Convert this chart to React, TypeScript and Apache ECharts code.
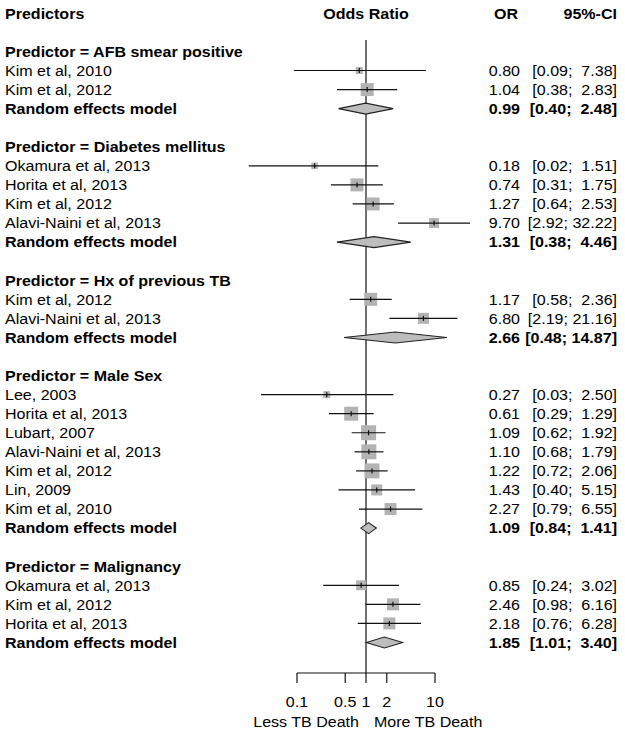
import React, { useEffect, useRef } from "react";
import * as echarts from "echarts";

// ---------- data ----------
const groupNames = ["AFB smear positive", "Diabetes mellitus", "Hx of previous TB", "Male Sex", "Malignancy"];
const studyLabels = [
  "Kim et al, 2010", "Kim et al, 2012",
  "Okamura et al, 2013", "Horita et al, 2013", "Kim et al, 2012", "Alavi-Naini et al, 2013",
  "Kim et al, 2012", "Alavi-Naini et al, 2013",
  "Lee, 2003", "Horita et al, 2013", "Lubart, 2007", "Alavi-Naini et al, 2013", "Kim et al, 2012", "Lin, 2009", "Kim et al, 2010",
  "Okamura et al, 2013", "Kim et al, 2012", "Horita et al, 2013",
];
const studyGroup = [0, 0, 1, 1, 1, 1, 2, 2, 3, 3, 3, 3, 3, 3, 3, 4, 4, 4];
const studyOR = [0.80, 1.04, 0.18, 0.74, 1.27, 9.70, 1.17, 6.80, 0.27, 0.61, 1.09, 1.10, 1.22, 1.43, 2.27, 0.85, 2.46, 2.18];
const studyLower = [0.09, 0.38, 0.02, 0.31, 0.64, 2.92, 0.58, 2.19, 0.03, 0.29, 0.62, 0.68, 0.72, 0.40, 0.79, 0.24, 0.98, 0.76];
const studyUpper = [7.38, 2.83, 1.51, 1.75, 2.53, 32.22, 2.36, 21.16, 2.50, 1.29, 1.92, 1.79, 2.06, 5.15, 6.55, 3.02, 6.16, 6.28];
// relative study weights (largest = 100)
const studyWeight = [22, 75, 19, 75, 75, 44, 75, 54, 22, 87, 100, 100, 100, 54, 64, 44, 64, 64];
const pooledOR = [0.99, 1.31, 2.66, 1.09, 1.85];
const pooledLower = [0.40, 0.38, 0.48, 0.84, 1.01];
const pooledUpper = [2.48, 4.46, 14.87, 1.41, 3.40];
const pooledLabel = "Random effects model";
const axisTickValues = [0.1, 0.5, 1, 2, 10];
const axisTickLabels = ["0.1", "0.5", "1", "2", "10"];
const headerLabels = ["Predictors", "Odds Ratio", "OR", "95%-CI"];
const noteLeft = "Less TB Death";
const noteRight = "More TB Death";

// ---------- layout / style ----------
const ROW_MIN = -0.6;
const ROW_MAX = 32.6;
const HEADER_ROW = -2;
const FONT = '"Liberation Sans", Arial, Helvetica, sans-serif';
const FS = 15;
const SX = 1.07;
const LEFT_X = 5;
const OR_RIGHT = 520;
const CI_RIGHT = 617;
const BOX = 15;
const INK = "#111";

// build rows
type LeftText = { label: string; row: number; bold: boolean };
const leftTexts: LeftText[] = [];
const studyItems: number[][] = [];
const pooledItems: number[][] = [];
const rightTexts: { or: string; ci: string; row: number; bold: boolean }[] = [];
const fmt = (v: number) => v.toFixed(2);
const fmtCI = (lo: number, hi: number) => {
  let h = fmt(hi);
  while (h.length < 5) h = "\u00A0" + h;
  return `[${fmt(lo)};\u00A0${h}]`;
};
{
  let r = 0;
  groupNames.forEach((g, gi) => {
    leftTexts.push({ label: `Predictor = ${g}`, row: r, bold: true });
    r++;
    studyLabels.forEach((lab, i) => {
      if (studyGroup[i] !== gi) return;
      leftTexts.push({ label: lab, row: r, bold: false });
      studyItems.push([studyOR[i], r, studyLower[i], studyUpper[i], studyWeight[i]]);
      rightTexts.push({ or: fmt(studyOR[i]), ci: fmtCI(studyLower[i], studyUpper[i]), row: r, bold: false });
      r++;
    });
    leftTexts.push({ label: pooledLabel, row: r, bold: true });
    pooledItems.push([pooledOR[gi], r, pooledLower[gi], pooledUpper[gi]]);
    rightTexts.push({ or: fmt(pooledOR[gi]), ci: fmtCI(pooledLower[gi], pooledUpper[gi]), row: r, bold: true });
    r += 2;
  });
}

function txt(x: number, y: number, text: string, align: string, bold: boolean) {
  return {
    type: "text",
    x,
    y,
    scaleX: SX,
    style: {
      text,
      x: 0,
      y: 0,
      align,
      verticalAlign: "middle",
      fontSize: FS,
      fontWeight: bold ? "bold" : "normal",
      fontFamily: FONT,
      fill: "#000",
    },
  };
}

function buildOption(): any {
  return {
    animation: false,
    backgroundColor: "#fff",
    grid: { left: 297, right: 190, top: 40, bottom: 58 },
    xAxis: { type: "log", logBase: 10, min: 0.1, max: 10, show: false },
    yAxis: { type: "value", inverse: true, min: ROW_MIN, max: ROW_MAX, show: false },
    series: [
      // reference line at OR = 1
      {
        type: "custom",
        clip: false,
        silent: true,
        data: [[1, ROW_MIN, ROW_MAX]],
        encode: { x: 0, y: 1 },
        renderItem: (_p: any, api: any) => {
          const a = api.coord([api.value(0), api.value(1)]);
          const b = api.coord([api.value(0), api.value(2)]);
          return { type: "line", shape: { x1: a[0], y1: a[1], x2: b[0], y2: b[1] }, style: { stroke: INK, lineWidth: 1.2 } };
        },
      },
      // studies
      {
        type: "custom",
        clip: false,
        silent: true,
        data: studyItems,
        encode: { x: 0, y: 1 },
        renderItem: (_p: any, api: any) => {
          const row = api.value(1);
          const c = api.coord([api.value(0), row]);
          const l = api.coord([api.value(2), row]);
          const h = api.coord([api.value(3), row]);
          const side = BOX * Math.sqrt(api.value(4) / 100);
          return {
            type: "group",
            children: [
              { type: "rect", shape: { x: c[0] - side / 2, y: c[1] - side / 2, width: side, height: side }, style: { fill: "#b3b3b3" } },
              { type: "line", shape: { x1: l[0], y1: l[1], x2: h[0], y2: h[1] }, style: { stroke: INK, lineWidth: 1.2 } },
              { type: "line", shape: { x1: c[0], y1: c[1] - 2.5, x2: c[0], y2: c[1] + 2.5 }, style: { stroke: INK, lineWidth: 1.2 } },
            ],
          };
        },
      },
      // pooled diamonds
      {
        type: "custom",
        clip: false,
        silent: true,
        data: pooledItems,
        encode: { x: 0, y: 1 },
        renderItem: (_p: any, api: any) => {
          const row = api.value(1);
          const c = api.coord([api.value(0), row]);
          const l = api.coord([api.value(2), row]);
          const h = api.coord([api.value(3), row]);
          const hh = 5.5;
          return {
            type: "polygon",
            shape: { points: [[l[0], l[1]], [c[0], c[1] - hh], [h[0], h[1]], [c[0], c[1] + hh]] },
            style: { fill: "#bdbdbd", stroke: "#222", lineWidth: 1.1 },
          };
        },
      },
      // left texts
      {
        type: "custom",
        clip: false,
        silent: true,
        data: leftTexts.map((t, i) => [1, t.row, i]),
        encode: { x: 0, y: 1 },
        renderItem: (_p: any, api: any) => {
          const t = leftTexts[api.value(2)];
          const c = api.coord([1, t.row]);
          return txt(LEFT_X, c[1], t.label, "left", t.bold);
        },
      },
      // right texts (OR, CI)
      {
        type: "custom",
        clip: false,
        silent: true,
        data: rightTexts.map((t, i) => [1, t.row, i]),
        encode: { x: 0, y: 1 },
        renderItem: (_p: any, api: any) => {
          const t = rightTexts[api.value(2)];
          const c = api.coord([1, t.row]);
          return {
            type: "group",
            children: [txt(OR_RIGHT, c[1], t.or, "right", t.bold), txt(CI_RIGHT, c[1], t.ci, "right", t.bold)],
          };
        },
      },
      // headers
      {
        type: "custom",
        clip: false,
        silent: true,
        data: [[1, HEADER_ROW]],
        encode: { x: 0, y: 1 },
        renderItem: (_p: any, api: any) => {
          const c = api.coord([1, api.value(1)]);
          return {
            type: "group",
            children: [
              txt(LEFT_X, c[1], headerLabels[0], "left", true),
              txt(c[0], c[1], headerLabels[1], "center", true),
              txt(OR_RIGHT - 2, c[1], headerLabels[2], "right", true),
              txt(CI_RIGHT, c[1], headerLabels[3], "right", true),
            ],
          };
        },
      },
      // x axis (line, ticks, labels)
      {
        type: "custom",
        clip: false,
        silent: true,
        data: axisTickValues.map((v, i) => [v, ROW_MAX, i]),
        encode: { x: 0, y: 1 },
        renderItem: (p: any, api: any) => {
          const c = api.coord([api.value(0), api.value(1)]);
          const children: any[] = [
            { type: "line", shape: { x1: c[0], y1: c[1], x2: c[0], y2: c[1] + 10 }, style: { stroke: INK, lineWidth: 1.2 } },
            txt(c[0], c[1] + 29, axisTickLabels[api.value(2)], "center", false),
          ];
          if (p.dataIndex === 0) {
            const a = api.coord([axisTickValues[0], ROW_MAX]);
            const b = api.coord([axisTickValues[axisTickValues.length - 1], ROW_MAX]);
            children.push({ type: "line", shape: { x1: a[0], y1: a[1], x2: b[0], y2: b[1] }, style: { stroke: INK, lineWidth: 1.2 } });
          }
          return { type: "group", children };
        },
      },
      // axis notes
      {
        type: "custom",
        clip: false,
        silent: true,
        data: [[1, ROW_MAX]],
        encode: { x: 0, y: 1 },
        renderItem: (_p: any, api: any) => {
          const c = api.coord([1, api.value(1)]);
          return {
            type: "group",
            children: [txt(c[0] - 7, c[1] + 49, noteLeft, "right", false), txt(c[0] + 8, c[1] + 49, noteRight, "left", false)],
          };
        },
      },
    ],
  };
}

export default function App() {
  const ref = useRef<HTMLDivElement>(null);
  useEffect(() => {
    document.body.style.margin = "0";
    if (!ref.current) return;
    const chart = echarts.init(ref.current, undefined, { renderer: "svg" });
    chart.setOption(buildOption());
    return () => chart.dispose();
  }, []);
  return <div ref={ref} style={{ width: 625, height: 731 }} />;
}
